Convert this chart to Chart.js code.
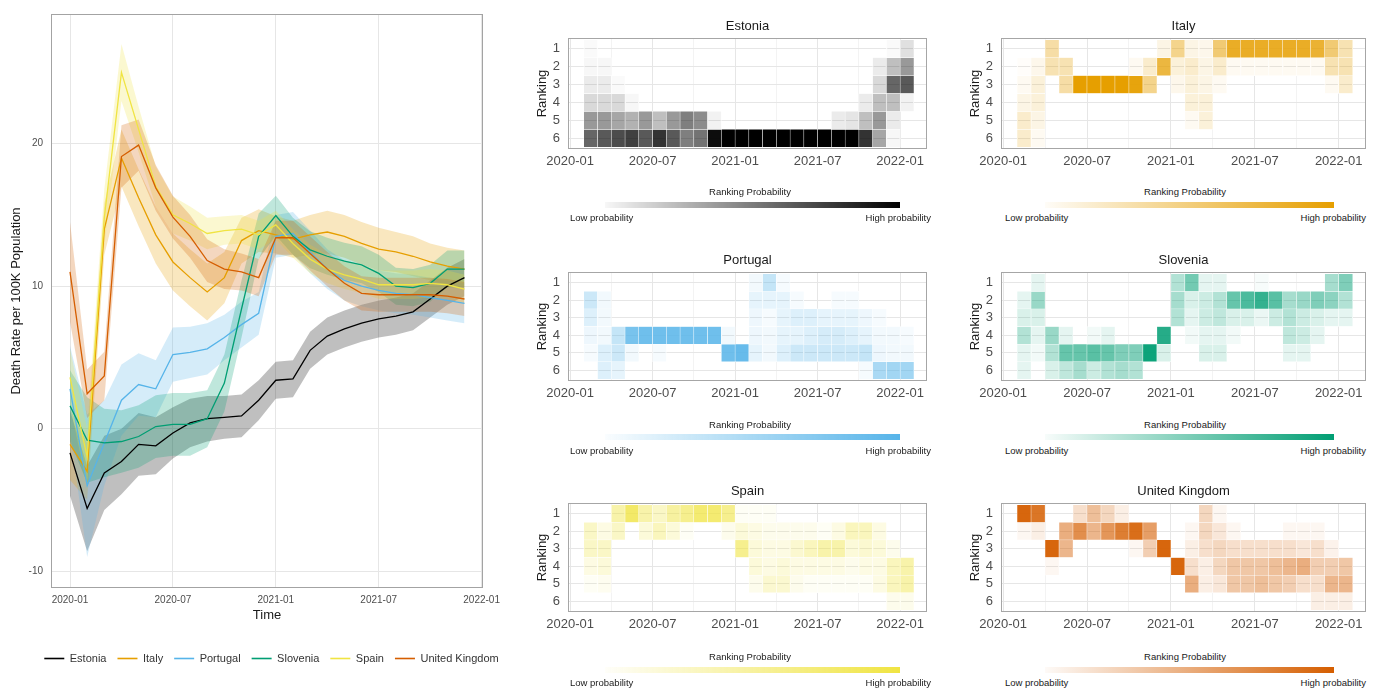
<!DOCTYPE html>
<html>
<head>
<meta charset="utf-8">
<script src="https://cdn.jsdelivr.net/npm/chart.js@4.4.0/dist/chart.umd.min.js"></script>
<style>
  body { margin:0; background:#fff; width:1379px; height:693px; overflow:hidden; position:relative;
         font-family:"Liberation Sans", Arial, sans-serif; }
  canvas { position:absolute; }
  .lg { position:absolute; white-space:nowrap; font-size:9.5px; color:#1a1a1a; line-height:1; }
  .bar { position:absolute; height:6px; }
</style>
</head>
<body>
<canvas id="main" width="543" height="674" style="left:0;top:0"></canvas>
<script>
// ---------------- DATA ----------------
const months = ['2020-01','2020-02','2020-03','2020-04','2020-05','2020-06','2020-07','2020-08','2020-09','2020-10','2020-11','2020-12',
                '2021-01','2021-02','2021-03','2021-04','2021-05','2021-06','2021-07','2021-08','2021-09','2021-10','2021-11','2021-12'];
const timeTickLabels = ['2020-01','2020-07','2021-01','2021-07','2022-01'];
const timeTickMonths = [0, 6, 12, 18, 24];
const rateTicks = [-10, 0, 10, 20];
const rankTicks = [1, 2, 3, 4, 5, 6];
const countries = ['Estonia','Italy','Portugal','Slovenia','Spain','United Kingdom'];
const countryColors = ['#000000','#E69F00','#56B4E9','#009E73','#F0E442','#D55E00'];

// death rate per 100K (monthly)
const estoniaRate  = [-1.7,-5.6,-3.1,-2.3,-1.1,-1.2,-0.3,0.4,0.7,0.8,0.9,2.0,3.4,3.5,5.5,6.5,7.0,7.4,7.7,7.9,8.2,9.1,10.0,10.6];
const italyRate    = [-1.1,-3.0,14.0,19.0,16.2,13.6,11.7,10.6,9.6,10.6,13.2,13.9,13.6,13.3,13.6,13.8,13.5,13.0,12.6,12.4,12.1,11.7,11.4,11.2];
const portugalRate = [2.8,-4.0,-1.0,2.0,3.1,2.8,5.2,5.35,5.6,6.4,7.3,8.1,13.5,13.7,12.4,11.2,10.4,10.0,9.7,9.5,9.4,9.2,9.0,8.8];
const sloveniaRate = [1.6,-0.8,-1.0,-0.9,-0.55,0.15,0.3,0.3,0.7,3.2,8.4,13.5,14.95,13.5,12.55,12.1,11.75,11.5,10.9,10.0,9.9,10.2,11.2,11.2];
const spainRate    = [3.6,-2.0,14.8,25.0,21.0,17.0,15.0,14.4,13.7,13.9,14.0,13.6,14.3,13.0,11.9,11.2,10.8,10.5,10.1,10.1,10.1,10.2,10.1,9.8];
const ukRate       = [11.0,2.45,3.7,19.1,19.9,16.9,14.85,13.5,11.8,11.2,11.0,10.6,13.4,13.4,12.3,11.2,10.2,9.5,9.4,9.4,9.4,9.4,9.3,9.1];

// half width of the uncertainty band
const estoniaHW  = [3.0,3.0,2.6,2.3,2.2,2.0,1.8,1.7,1.6,1.5,1.5,1.4,1.3,1.3,1.3,1.3,1.3,1.3,1.3,1.3,1.3,1.3,1.3,1.3];
const italyHW    = [2.5,2.0,1.8,2.0,2.0,2.0,2.0,2.0,2.0,1.8,1.6,1.5,1.3,1.3,1.4,1.5,1.5,1.5,1.5,1.4,1.4,1.3,1.3,1.3];
const portugalHW = [3.0,5.0,3.0,2.5,2.2,2.0,1.9,1.8,1.8,1.6,1.6,1.5,1.5,1.5,1.5,1.4,1.4,1.4,1.4,1.4,1.4,1.4,1.4,1.4];
const sloveniaHW = [2.5,3.0,2.4,2.2,2.2,2.2,2.2,2.2,2.0,2.0,2.0,1.6,1.4,1.3,1.3,1.3,1.3,1.3,1.3,1.3,1.3,1.3,1.3,1.3];
const spainHW    = [2.0,2.0,2.0,2.0,1.6,1.4,1.3,1.2,1.1,1.0,1.0,1.0,1.0,1.0,1.0,1.0,1.0,1.0,1.0,1.0,1.0,1.0,1.0,1.0];
const ukHW       = [3.5,1.7,1.7,2.2,1.8,1.6,1.5,1.5,1.5,1.4,1.3,1.3,1.2,1.2,1.2,1.2,1.2,1.2,1.2,1.2,1.2,1.2,1.2,1.2];

// ranking probabilities: rows = rank 1..6, columns = months
const estoniaRankProb = [
 [0.02,0,0,0,0,0,0,0,0,0,0,0,0,0,0,0,0,0,0,0,0,0,0.02,0.12],
 [0.03,0.03,0,0,0,0,0,0,0,0,0,0,0,0,0,0,0,0,0,0,0,0.08,0.25,0.4],
 [0.08,0.08,0.02,0,0,0,0,0,0,0,0,0,0,0,0,0,0,0,0,0,0,0.15,0.6,0.65],
 [0.15,0.15,0.15,0.03,0,0,0,0,0,0,0,0,0,0,0,0,0,0,0,0,0.08,0.25,0.25,0.05],
 [0.4,0.4,0.35,0.3,0.4,0.25,0.4,0.5,0.45,0.05,0,0,0,0,0,0,0,0,0.08,0.1,0.25,0.4,0.08,0],
 [0.6,0.65,0.7,0.75,0.65,0.8,0.65,0.5,0.55,0.95,1,1,1,1,1,1,1,1,1,1,0.8,0.35,0.03,0]];
const italyRankProb = [
 [0,0,0.35,0,0,0,0,0,0,0,0.1,0.45,0.1,0.08,0.55,0.85,0.85,0.85,0.85,0.85,0.85,0.8,0.55,0.3],
 [0.02,0.08,0.3,0.3,0,0,0,0,0.05,0.2,0.75,0.15,0.2,0.1,0.2,0.05,0.05,0.05,0.05,0.05,0.05,0.05,0.3,0.3],
 [0.05,0.15,0,0.35,1,1,1,1,0.95,0.45,0,0.08,0.15,0.1,0.05,0,0,0,0,0,0,0,0.05,0.2],
 [0.1,0.15,0,0,0,0,0,0,0,0,0,0,0.15,0.15,0,0,0,0,0,0,0,0,0,0],
 [0.2,0.1,0,0,0,0,0,0,0,0,0,0,0.05,0.15,0,0,0,0,0,0,0,0,0,0],
 [0.2,0.05,0,0,0,0,0,0,0,0,0,0,0,0,0,0,0,0,0,0,0,0,0,0]];
const portugalRankProb = [
 [0,0,0,0,0,0,0,0,0,0,0,0,0.08,0.35,0.05,0,0,0,0,0,0,0,0,0],
 [0.3,0.08,0,0,0,0,0,0,0,0,0,0,0.15,0.15,0.15,0.05,0,0,0.05,0.05,0,0,0,0],
 [0.2,0.08,0,0,0,0,0,0,0,0,0,0,0.1,0.05,0.15,0.2,0.2,0.15,0.15,0.15,0.1,0.05,0,0],
 [0.1,0.08,0.35,0.8,0.85,0.85,0.85,0.85,0.85,0.85,0.08,0,0.1,0.08,0.15,0.15,0.2,0.25,0.25,0.2,0.15,0.08,0.08,0.05],
 [0.05,0.2,0.3,0.08,0,0.05,0,0,0,0,0.85,0.9,0.15,0.08,0.2,0.3,0.3,0.3,0.3,0.3,0.35,0.1,0.08,0.08],
 [0,0.2,0.15,0,0,0,0,0,0,0,0,0,0,0,0,0,0,0,0,0,0.05,0.5,0.55,0.55]];
const sloveniaRankProb = [
 [0,0.1,0,0,0,0,0,0,0,0,0,0.3,0.55,0.1,0.1,0,0,0.03,0,0,0,0,0.35,0.5],
 [0.1,0.4,0,0,0,0,0,0,0,0,0,0.35,0.15,0.2,0.3,0.6,0.7,0.8,0.65,0.35,0.4,0.5,0.45,0.3],
 [0.15,0.15,0,0,0,0,0,0,0,0,0,0.3,0.1,0.2,0.25,0.15,0.15,0.08,0.2,0.3,0.2,0.15,0.1,0.1],
 [0.3,0.1,0.4,0.1,0,0.05,0.1,0,0,0,0.85,0,0.05,0.1,0.1,0.05,0,0,0,0.25,0.2,0.1,0,0],
 [0.1,0.05,0.3,0.6,0.6,0.65,0.6,0.5,0.5,0.95,0.15,0,0,0.15,0.15,0,0,0,0,0.1,0.1,0,0,0],
 [0.1,0,0.15,0.25,0.35,0.2,0.3,0.35,0.3,0,0,0,0,0,0,0,0,0,0,0,0,0,0,0]];
const spainRankProb = [
 [0,0,0.45,0.8,0.45,0.3,0.5,0.6,0.75,0.75,0.6,0.05,0.05,0.05,0,0,0,0,0,0,0,0,0,0],
 [0.3,0.15,0.3,0,0.2,0.35,0.2,0.05,0,0,0.1,0.2,0.15,0.1,0.1,0.1,0.1,0.05,0.15,0.35,0.35,0.15,0,0],
 [0.3,0.3,0,0,0,0,0,0,0,0,0,0.6,0.2,0.15,0.15,0.25,0.35,0.45,0.45,0.2,0.25,0.2,0.1,0],
 [0.15,0.2,0,0,0,0,0,0,0,0,0,0,0.2,0.15,0.2,0.15,0.15,0.15,0.15,0.1,0.15,0.15,0.35,0.45],
 [0.05,0.08,0,0,0,0,0,0,0,0,0,0,0.1,0.25,0.25,0.1,0.05,0.05,0.05,0.05,0.05,0.15,0.35,0.45],
 [0,0,0,0,0,0,0,0,0,0,0,0,0,0,0,0,0,0,0,0,0,0,0.1,0.1]];
const ukRankProb = [
 [0.95,0.85,0,0,0.2,0.4,0.25,0.1,0,0,0,0,0,0.25,0.05,0,0,0,0,0,0,0,0,0],
 [0.05,0.1,0,0.5,0.7,0.45,0.65,0.8,0.9,0.6,0,0,0.05,0.25,0.15,0.05,0,0,0,0.05,0.05,0.05,0,0],
 [0,0,0.95,0.45,0,0,0,0,0.05,0.3,0.95,0,0.1,0.2,0.25,0.2,0.2,0.2,0.2,0.2,0.15,0.2,0.08,0],
 [0,0,0.05,0,0,0,0,0,0,0,0,0.95,0.2,0.1,0.25,0.35,0.35,0.35,0.4,0.45,0.5,0.3,0.3,0.35],
 [0,0,0,0,0,0,0,0,0,0,0,0,0.5,0.1,0.15,0.35,0.35,0.4,0.35,0.3,0.2,0.2,0.45,0.45],
 [0,0,0,0,0,0,0,0,0,0,0,0,0,0,0,0,0,0,0,0,0,0.1,0.1,0.1]];

// ---------------- helpers ----------------
const rates = [estoniaRate, italyRate, portugalRate, sloveniaRate, spainRate, ukRate];
const halfWidths = [estoniaHW, italyHW, portugalHW, sloveniaHW, spainHW, ukHW];
const rankProbs = [estoniaRankProb, italyRankProb, portugalRankProb, sloveniaRankProb, spainRankProb, ukRankProb];

function rgba(hex, a) {
  const n = parseInt(hex.slice(1), 16);
  return `rgba(${n >> 16},${(n >> 8) & 255},${n & 255},${a})`;
}
const FONT = '"Liberation Sans", Arial, sans-serif';
Chart.defaults.font.family = FONT;
Chart.defaults.animation = false;

const panelBorder = {
  id: 'panelBorder',
  afterDatasetsDraw(chart, args, opts) {
    const { ctx, chartArea: { left, top, right, bottom } } = chart;
    ctx.save();
    ctx.strokeStyle = opts.color || '#a0a0a0';
    ctx.lineWidth = 1;
    ctx.strokeRect(Math.round(left) + 0.5, Math.round(top) + 0.5, Math.round(right - left) - 1, Math.round(bottom - top) - 1);
    ctx.restore();
  }
};

// ---------------- main line chart ----------------
const lineDatasets = [];
countries.forEach((c, ci) => {
  const col = countryColors[ci];
  lineDatasets.push({
    label: '', data: months.map((m, i) => ({ x: i, y: rates[ci][i] - halfWidths[ci][i] })),
    borderWidth: 0, borderColor: 'rgba(0,0,0,0)', pointRadius: 0, fill: false, order: 40 - ci, tension: 0
  });
  lineDatasets.push({
    label: '', data: months.map((m, i) => ({ x: i, y: rates[ci][i] + halfWidths[ci][i] })),
    borderWidth: 0, borderColor: 'rgba(0,0,0,0)', pointRadius: 0, fill: '-1',
    backgroundColor: rgba(col, 0.25), order: 40 - ci, tension: 0
  });
});
countries.forEach((c, ci) => {
  lineDatasets.push({
    label: c, data: months.map((m, i) => ({ x: i, y: rates[ci][i] })),
    borderColor: countryColors[ci], backgroundColor: countryColors[ci], borderWidth: 1.3,
    pointRadius: 0, fill: false, tension: 0, order: 10 - ci
  });
});

new Chart(document.getElementById('main'), {
  type: 'line',
  data: { datasets: lineDatasets },
  options: {
    responsive: false,
    layout: { padding: { top: 8, left: 0, right: 0, bottom: 0 } },
    plugins: {
      tooltip: { enabled: false },
      panelBorder: { color: '#a3a3a3' },
      legend: {
        position: 'bottom',
        labels: {
          usePointStyle: true, pointStyle: 'line', pointStyleWidth: 20, padding: 11,
          color: '#333333', font: { size: 11 },
          generateLabels: () => countries.map((c, ci) => ({
            text: c, strokeStyle: countryColors[ci], fillStyle: countryColors[ci],
            lineWidth: 1.6, pointStyle: 'line', hidden: false, fontColor: '#333333'
          }))
        }
      }
    },
    scales: {
      x: {
        type: 'linear', min: -1.108, max: 24.08,
        afterBuildTicks: s => { s.ticks = timeTickMonths.map(v => ({ value: v })); },
        afterFit: s => { s.height = 54; },
        ticks: { callback: v => timeTickLabels[timeTickMonths.indexOf(v)], autoSkip: false, maxRotation: 0,
                 color: '#4d4d4d', font: { size: 10 }, padding: 6 },
        grid: { color: '#e6e6e6', drawTicks: false },
        border: { display: false },
        title: { display: true, text: 'Time', color: '#1a1a1a', font: { size: 13 }, padding: { top: 0, bottom: 19 } }
      },
      y: {
        type: 'linear', min: -11.18, max: 29.1,
        afterBuildTicks: s => { s.ticks = rateTicks.map(v => ({ value: v })); },
        afterFit: s => { s.width = 51; },
        ticks: { color: '#4d4d4d', font: { size: 10 }, padding: 8 },
        grid: { color: '#e6e6e6', drawTicks: false },
        border: { display: false },
        title: { display: true, text: 'Death Rate per 100K Population', color: '#1a1a1a', font: { size: 13 }, padding: { top: 9 } }
      },
      yRight: {
        type: 'linear', position: 'right',
        afterFit: s => { s.width = 60; },
        ticks: { display: false }, grid: { display: false }, border: { display: false }
      }
    }
  },
  plugins: [panelBorder]
});

// ---------------- heatmaps ----------------
const cols = [
  { canvasLeft: 520, width: 420, titleX: 750, barL: 605, barR: 900, lowL: 570, highR: 931 },
  { canvasLeft: 953, width: 426, titleX: 1185, barL: 1045, barR: 1334, lowL: 1005, highR: 1366 }
];
const rowsL = [
  { panelTop: 38, panelH: 111, legTitleY: 192, barTop: 202, labY: 218 },
  { panelTop: 272, panelH: 109, legTitleY: 425, barTop: 434, labY: 451 },
  { panelTop: 503, panelH: 109, legTitleY: 657, barTop: 667, labY: 683 }
];
const tileShift = 1.5; // tiles sit half a month into the following month on the date axis
const minorTicks = [0, 3, 6, 9, 12, 15, 18, 21, 24];

function addDiv(cls, text, style) {
  const d = document.createElement('div');
  d.className = cls;
  if (text) d.textContent = text;
  Object.assign(d.style, style);
  document.body.appendChild(d);
  return d;
}

countries.forEach((c, ci) => {
  const col = cols[ci % 2], row = rowsL[Math.floor(ci / 2)];
  const color = countryColors[ci];
  const cv = document.createElement('canvas');
  const top = row.panelTop - 23;
  cv.width = col.width; cv.height = 23 + row.panelH + 26;
  cv.style.left = col.canvasLeft + 'px'; cv.style.top = top + 'px';
  document.body.appendChild(cv);

  const probs = rankProbs[ci];
  const datasets = rankTicks.map((r, ri) => ({
    data: months.map((m, i) => ({ x: i + tileShift, y: [r - 0.5, r + 0.5] })),
    backgroundColor: months.map((m, i) => rgba(color, probs[ri][i])),
    borderColor: months.map((m, i) => probs[ri][i] > 0 ? '#ffffff' : 'rgba(0,0,0,0)'),
    borderWidth: 0.5, borderSkipped: false, grouped: false,
    barPercentage: 1, categoryPercentage: 1
  }));

  new Chart(cv, {
    type: 'bar',
    data: { datasets },
    options: {
      responsive: false,
      layout: { padding: { right: 13 } },
      plugins: {
        legend: { display: false }, tooltip: { enabled: false },
        panelBorder: { color: '#a6a6a6' },
        title: { display: true, text: c, fullSize: false, color: '#1a1a1a', font: { size: 13, weight: 'normal' },
                 padding: { top: 4, bottom: 3.4 } }
      },
      scales: {
        x: {
          type: 'linear', min: -0.15, max: 25.95, offset: false,
          afterBuildTicks: s => { s.ticks = minorTicks.map(v => ({ value: v })); },
          afterFit: s => { s.height = 26; },
          ticks: { callback: v => { const k = timeTickMonths.indexOf(v); return k >= 0 ? timeTickLabels[k] : ''; },
                   autoSkip: false, maxRotation: 0, color: '#4d4d4d', font: { size: 13 }, padding: 4.5 },
          grid: { offset: false, color: ctx => (ctx.tick && timeTickMonths.includes(ctx.tick.value)) ? '#e6e6e6' : '#f3f3f3', drawTicks: false },
          border: { display: false }
        },
        y: {
          type: 'linear', reverse: true, min: 0.4, max: 6.6,
          afterBuildTicks: s => { s.ticks = rankTicks.map(v => ({ value: v })); },
          afterFit: s => { s.width = 48; },
          ticks: { color: '#4d4d4d', font: { size: 13 }, padding: 8 },
          grid: { color: '#e6e6e6', drawTicks: false },
          border: { display: false },
          title: { display: true, text: 'Ranking', color: '#1a1a1a', font: { size: 13 }, padding: { top: 15 } }
        }
      }
    },
    plugins: [panelBorder]
  });

  // colour legend
  addDiv('lg', 'Ranking Probability', { left: col.titleX + 'px', top: row.legTitleY + 'px', transform: 'translate(-50%,-50%)' });
  addDiv('bar', '', { left: col.barL + 'px', top: row.barTop + 'px', width: (col.barR - col.barL) + 'px',
                      background: `linear-gradient(to right, ${rgba(color, 0.03)}, ${rgba(color, 1)})` });
  addDiv('lg', 'Low probability', { left: col.lowL + 'px', top: row.labY + 'px', transform: 'translateY(-50%)' });
  addDiv('lg', 'High probability', { left: col.highR + 'px', top: row.labY + 'px', transform: 'translate(-100%,-50%)' });
});
</script>
</body>
</html>
